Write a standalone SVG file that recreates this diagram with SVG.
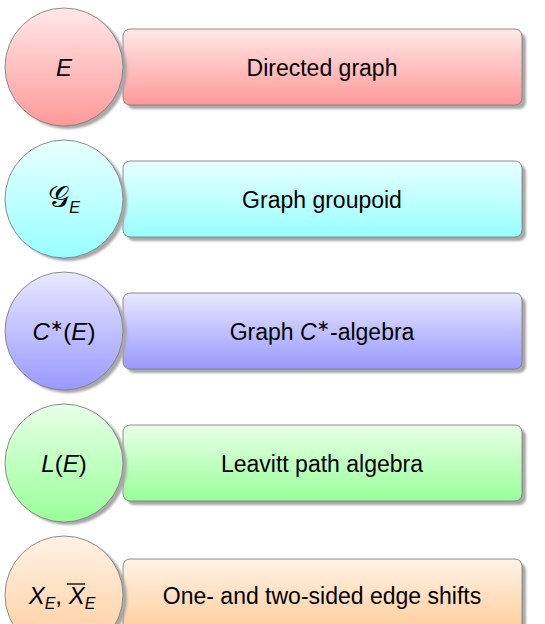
<svg xmlns="http://www.w3.org/2000/svg" width="545" height="624" viewBox="0 0 545 624">
<defs>
<linearGradient id="gRed" x1="0" y1="0" x2="0" y2="1"><stop offset="0" stop-color="#ffe8e8"/><stop offset="1" stop-color="#ff9999"/></linearGradient>
<linearGradient id="gCyan" x1="0" y1="0" x2="0" y2="1"><stop offset="0" stop-color="#e8ffff"/><stop offset="1" stop-color="#99ffff"/></linearGradient>
<linearGradient id="gBlue" x1="0" y1="0" x2="0" y2="1"><stop offset="0" stop-color="#e8e8ff"/><stop offset="1" stop-color="#9999ff"/></linearGradient>
<linearGradient id="gGreen" x1="0" y1="0" x2="0" y2="1"><stop offset="0" stop-color="#e8ffe8"/><stop offset="1" stop-color="#99ff99"/></linearGradient>
<linearGradient id="gOrange" x1="0" y1="0" x2="0" y2="1"><stop offset="0" stop-color="#fff2e6"/><stop offset="1" stop-color="#ffcc99"/></linearGradient>
<filter id="blur" x="-20%" y="-20%" width="140%" height="140%"><feGaussianBlur stdDeviation="1"/></filter>
</defs>
<style>
.sh{fill:#a8a8a8;filter:url(#blur)}
.bd{stroke:#808080;stroke-width:0.9}
text{font-family:"Liberation Sans","DejaVu Sans",sans-serif;font-size:23px;fill:#000;text-anchor:middle}
.m{font-size:24px}
.it{font-style:italic}
.sub{font-size:16px}
.cal{font-size:30px}
</style>
<g id="connectors"></g>
<g id="row1">
<rect class="sh" x="127" y="33" width="399" height="76" rx="7"/>
<rect class="bd" x="123" y="29" width="399" height="76" rx="7" fill="url(#gRed)"/>
<circle class="sh" cx="68" cy="70" r="59"/>
<circle class="bd" cx="64" cy="67" r="59" fill="url(#gRed)"/>
<text x="64" y="76" class="it m">E</text>
<text x="322" y="76">Directed graph</text>
</g>
<g id="row2">
<rect class="sh" x="127" y="165" width="399" height="76" rx="7"/>
<rect class="bd" x="123" y="161" width="399" height="76" rx="7" fill="url(#gCyan)"/>
<circle class="sh" cx="68" cy="202" r="59"/>
<circle class="bd" cx="64" cy="199" r="59" fill="url(#gCyan)"/>
<text x="64" y="207" class="m"><tspan class="cal">𝒢</tspan><tspan class="sub it" dy="6">E</tspan></text>
<text x="322" y="208">Graph groupoid</text>
</g>
<g id="row3">
<rect class="sh" x="127" y="297" width="399" height="76" rx="7"/>
<rect class="bd" x="123" y="293" width="399" height="76" rx="7" fill="url(#gBlue)"/>
<circle class="sh" cx="68" cy="334" r="59"/>
<circle class="bd" cx="64" cy="331" r="59" fill="url(#gBlue)"/>
<text x="64" y="340" class="m"><tspan class="it">C</tspan><tspan class="sub" dy="-9">∗</tspan><tspan dy="9">(</tspan><tspan class="it">E</tspan>)</text>
<text x="322" y="340">Graph <tspan class="it">C</tspan><tspan class="sub" dy="-9">∗</tspan><tspan dy="9">-algebra</tspan></text>
</g>
<g id="row4">
<rect class="sh" x="127" y="429" width="399" height="76" rx="7"/>
<rect class="bd" x="123" y="425" width="399" height="76" rx="7" fill="url(#gGreen)"/>
<circle class="sh" cx="68" cy="466" r="59"/>
<circle class="bd" cx="64" cy="463" r="59" fill="url(#gGreen)"/>
<text x="64" y="472" class="m"><tspan class="it">L</tspan>(<tspan class="it">E</tspan>)</text>
<text x="322" y="472">Leavitt path algebra</text>
</g>
<g id="row5">
<rect class="sh" x="127" y="563" width="399" height="76" rx="7"/>
<rect class="bd" x="123" y="559" width="399" height="76" rx="7" fill="url(#gOrange)"/>
<circle class="sh" cx="68" cy="598" r="59"/>
<circle class="bd" cx="64" cy="595" r="59" fill="url(#gOrange)"/>
<text x="62" y="604" class="m"><tspan class="it">X</tspan><tspan class="sub it" dy="5">E</tspan><tspan dy="-5">, </tspan><tspan class="it">X</tspan><tspan class="sub it" dy="5">E</tspan></text>
<line x1="67" y1="584" x2="85" y2="584" stroke="#000" stroke-width="1.3"/>
<text x="322" y="604">One- and two-sided edge shifts</text>
</g>
</svg>
